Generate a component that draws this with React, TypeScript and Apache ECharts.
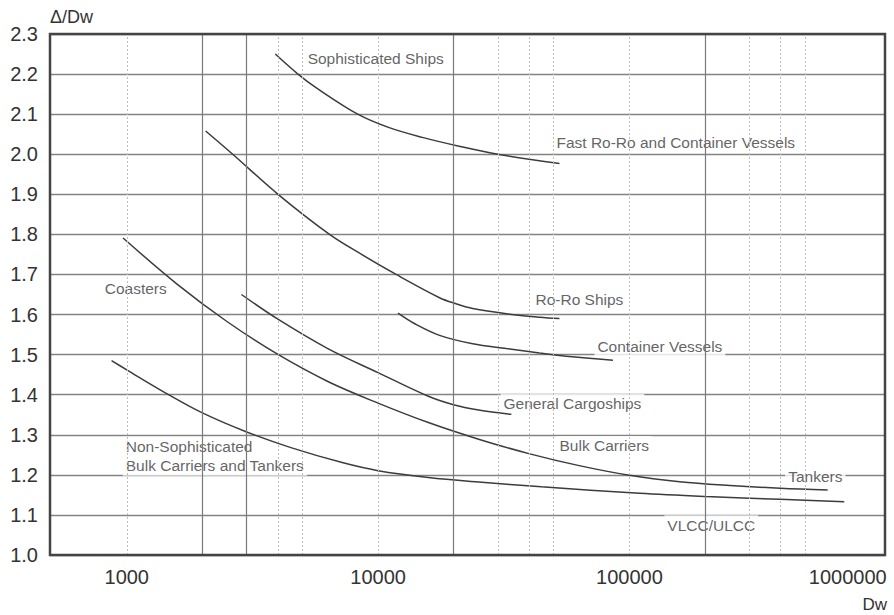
import React, { useEffect, useRef } from "react";
import * as echarts from "echarts";

// ---- Data (Dw in tonnes, ratio Δ/Dw) ----
const SOPHISTICATED_DW = [3900, 4800, 5700, 8300, 11000, 15000, 21000, 30000, 52700];
const SOPHISTICATED_R = [2.25, 2.2, 2.165, 2.1, 2.067, 2.042, 2.02, 2.0, 1.977];

const RORO_DW = [2060, 2640, 4000, 6410, 8440, 11800, 17560, 20400, 23800, 32400, 43900, 52700];
const RORO_R = [2.058, 2.0, 1.9, 1.8, 1.753, 1.7, 1.642, 1.627, 1.615, 1.602, 1.5935, 1.59];

const CONTAINER_DW = [12000, 14000, 17560, 23800, 32400, 43900, 56000, 86000];
const CONTAINER_R = [1.6035, 1.577, 1.548, 1.527, 1.515, 1.504, 1.496, 1.486];

const GENERAL_DW = [2860, 3980, 6310, 10000, 15850, 19950, 25120, 33900];
const GENERAL_R = [1.65, 1.589, 1.515, 1.455, 1.396, 1.375, 1.362, 1.351];

const COASTER_BULK_DW = [967, 1585, 2512, 3981, 6310, 10000, 15850, 25120, 39810, 63100, 100000, 158500, 251200, 398100, 615000];
const COASTER_BULK_R = [1.791, 1.676, 1.582, 1.501, 1.433, 1.379, 1.3305, 1.289, 1.253, 1.223, 1.199, 1.183, 1.1735, 1.1665, 1.162];

const NONSOPH_DW = [870, 1000, 1413, 2000, 3000, 4500, 7260, 10000, 15850, 25120, 44670, 109600, 202000, 398000, 716000];
const NONSOPH_R = [1.485, 1.462, 1.406, 1.3545, 1.307, 1.268, 1.23, 1.2105, 1.1935, 1.182, 1.17, 1.154, 1.146, 1.139, 1.133];

const X_LABEL_VALUES = [1000, 10000, 100000, 1000000];
const MAJOR_GRID_DW = [2000, 3000, 20000, 200000];
const MINOR_GRID_DW = [1000, 4000, 5000, 10000, 30000, 40000, 50000, 100000, 300000, 400000, 500000];

const ANNOTATION_TEXTS = [
  "Sophisticated Ships",
  "Fast Ro-Ro and Container Vessels",
  "Coasters",
  "Ro-Ro Ships",
  "Container Vessels",
  "General Cargoships",
  "Bulk Carriers",
  "Tankers",
  "VLCC/ULCC",
  "Non-Sophisticated\nBulk Carriers and Tankers",
];
const ANNOTATION_DW = [5245, 51250, 817, 42300, 74600, 31550, 52700, 428500, 141600, 991];
const ANNOTATION_R = [2.2379, 2.03, 1.6638, 1.6384, 1.5193, 1.3773, 1.2727, 1.1968, 1.0747, 1.2466];

const FONT = "'Liberation Sans', Arial, Helvetica, sans-serif";
const TEXT_COLOR = "#333";
const CURVE_COLOR = "#3c3c3c";

const zip = (xs: number[], ys: number[]) => xs.map((x, i) => [x, ys[i]]);

export default function App() {
  const ref = useRef<HTMLDivElement>(null);

  useEffect(() => {
    if (!ref.current) return;
    const chart = echarts.init(ref.current, null, { renderer: "svg" });

    const curve = (name: string, xs: number[], ys: number[]) => ({
      name,
      type: "line",
      data: zip(xs, ys),
      smooth: 0.35,
      symbol: "none",
      z: 3,
      silent: true,
      lineStyle: { color: CURVE_COLOR, width: 1.5 },
    });

    const gridLines = [
      ...MAJOR_GRID_DW.map((v) => ({
        xAxis: v,
        lineStyle: { color: "#7a7a7a", width: 1.2, type: "solid" },
      })),
      ...MINOR_GRID_DW.map((v) => ({
        xAxis: v,
        lineStyle: { color: "#bdbdbd", width: 1, type: [2, 2] },
      })),
    ];

    const option: any = {
      animation: false,
      backgroundColor: "#ffffff",
      grid: {
        left: 50,
        right: 9,
        top: 34,
        bottom: 60,
        show: true,
        z: 10,
        borderColor: "#444",
        borderWidth: 2.5,
        backgroundColor: "transparent",
        outerBoundsMode: "none",
      },
      xAxis: {
        type: "log",
        logBase: 10,
        min: 495,
        max: 1040000,
        axisLine: { show: false },
        axisTick: { show: false },
        splitLine: { show: false },
        axisLabel: {
          fontSize: 20,
          fontFamily: FONT,
          color: TEXT_COLOR,
          margin: 12,
          formatter: (v: number) => {
            const e = Math.log10(v);
            const r = Math.round(e);
            if (Math.abs(e - r) > 1e-6) return "";
            const n = Math.pow(10, r);
            if (!X_LABEL_VALUES.includes(n)) return "";
            return n === 1000000 ? `{last|${n}}` : String(n);
          },
          rich: {
            last: {
              fontSize: 20,
              fontFamily: FONT,
              color: TEXT_COLOR,
              padding: [0, 66, 0, 0],
            },
          },
        },
        name: "Dw",
        nameLocation: "end",
        nameGap: 2,
        nameTextStyle: {
          fontSize: 17,
          fontFamily: FONT,
          color: TEXT_COLOR,
          align: "right",
          verticalAlign: "top",
          padding: [41, 0, 0, 0],
        },
      },
      yAxis: {
        type: "value",
        min: 1.0,
        max: 2.3,
        interval: 0.1,
        axisLine: { show: false },
        axisTick: { show: false },
        splitLine: { show: true, lineStyle: { color: "#828282", width: 1.3 } },
        axisLabel: {
          fontSize: 20,
          fontFamily: FONT,
          color: TEXT_COLOR,
          margin: 12,
          formatter: (v: number) => v.toFixed(1),
        },
        name: "Δ/Dw",
        nameLocation: "end",
        nameGap: 8,
        nameTextStyle: {
          fontSize: 18,
          fontFamily: FONT,
          color: TEXT_COLOR,
          align: "left",
        },
      },
      series: [
        {
          name: "grid",
          type: "line",
          data: [],
          z: 1,
          silent: true,
          markLine: {
            silent: true,
            symbol: "none",
            label: { show: false },
            animation: false,
            data: gridLines,
          },
        },
        {
          name: "labels",
          type: "scatter",
          z: 2,
          silent: true,
          symbolSize: 0,
          data: ANNOTATION_TEXTS.map((t, i) => ({
            value: [ANNOTATION_DW[i], ANNOTATION_R[i]],
            label: { formatter: t },
          })),
          label: {
            show: true,
            position: "right",
            distance: 0,
            offset: [-3, 0],
            align: "left",
            verticalAlign: "middle",
            fontSize: 15.5,
            lineHeight: 19.5,
            fontFamily: FONT,
            color: "#3a3a3a",
            backgroundColor: "#ffffff",
            padding: [0, 3, 0, 3],
          },
        },
        curve("Sophisticated Ships", SOPHISTICATED_DW, SOPHISTICATED_R),
        curve("Ro-Ro Ships", RORO_DW, RORO_R),
        curve("Container Vessels", CONTAINER_DW, CONTAINER_R),
        curve("General Cargoships", GENERAL_DW, GENERAL_R),
        curve("Coasters / Bulk Carriers", COASTER_BULK_DW, COASTER_BULK_R),
        curve("Non-Sophisticated", NONSOPH_DW, NONSOPH_R),
      ],
    };

    chart.setOption(option);
    return () => chart.dispose();
  }, []);

  return (
    <div
      ref={ref}
      style={{ position: "fixed", left: 0, top: 0, width: 894, height: 615, background: "#fff" }}
    />
  );
}
